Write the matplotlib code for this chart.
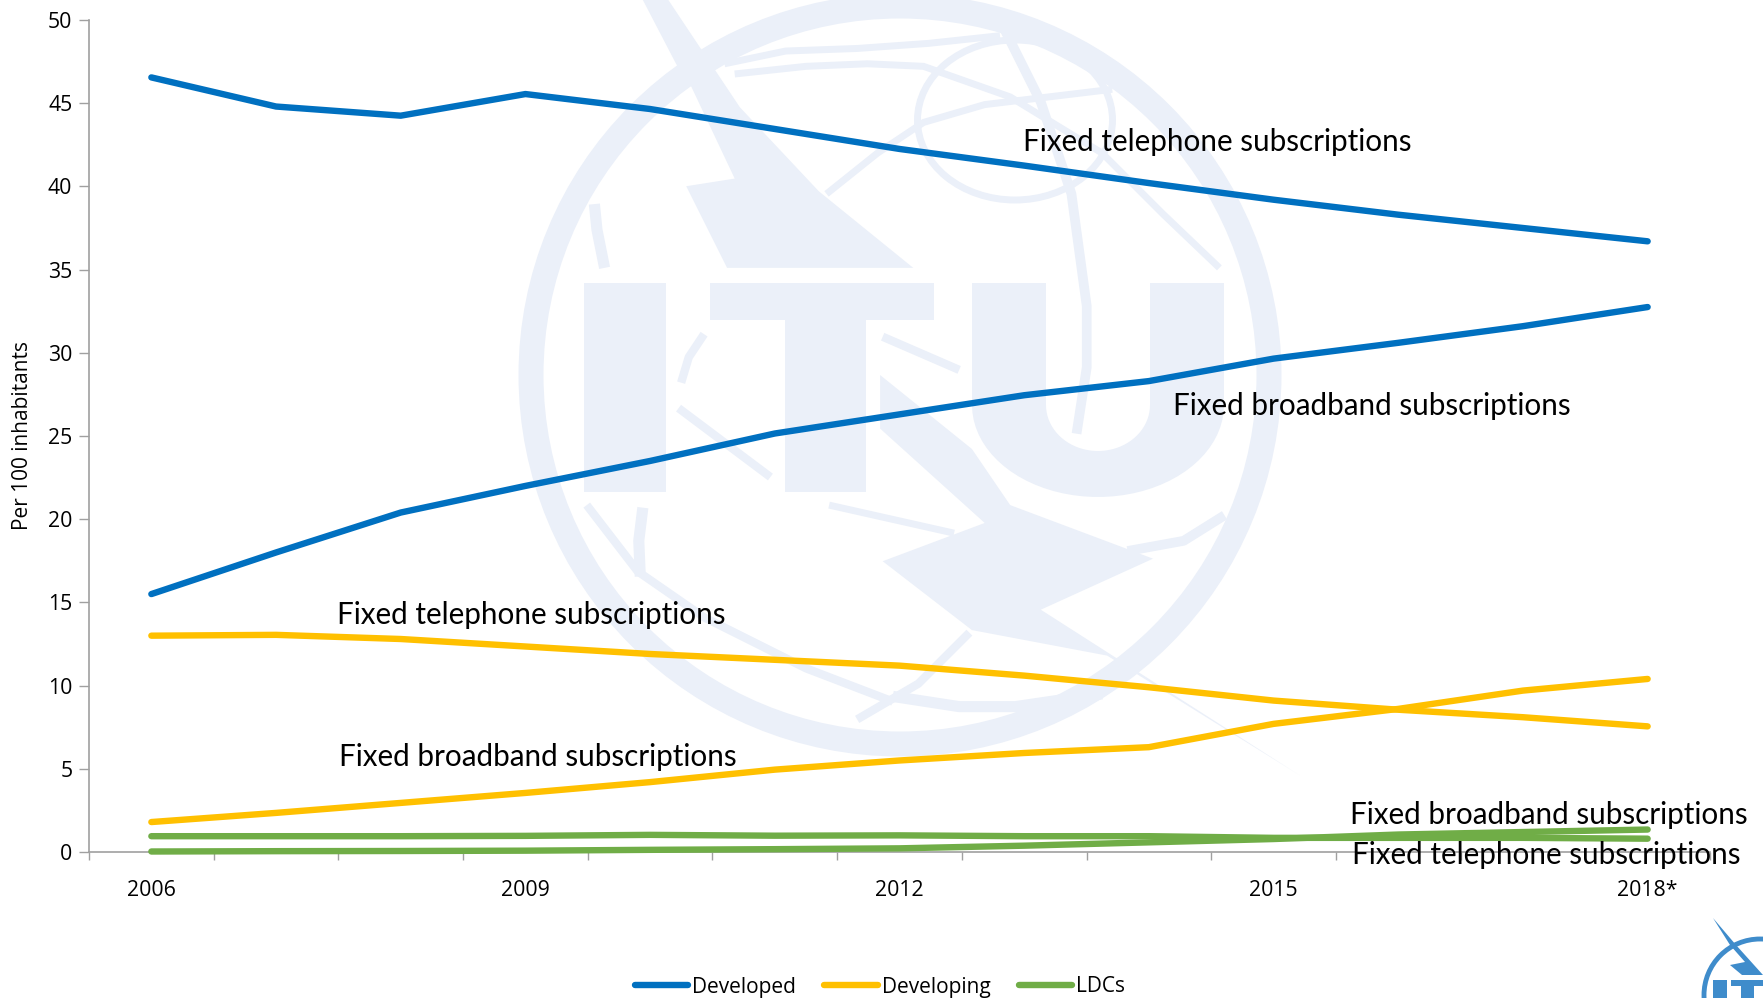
import matplotlib
matplotlib.use('Agg')
from matplotlib import pyplot as plt
from matplotlib.patches import Polygon, Ellipse, Rectangle
import numpy as np

years = [2006, 2007, 2008, 2009, 2010, 2011, 2012, 2013, 2014, 2015, 2016, 2017, 2018]
tick_years = [2006, 2009, 2012, 2015, 2018]
tick_labels = ['2006', '2009', '2012', '2015', '2018*']

developed_tel = [46.55, 44.8, 44.25, 45.55, 44.65, 43.45, 42.25, 41.25, 40.2, 39.2, 38.3, 37.5, 36.7]
developed_bb = [15.5, 18.0, 20.4, 22.0, 23.5, 25.15, 26.3, 27.45, 28.3, 29.65, 30.6, 31.6, 32.75]
developing_tel = [13.0, 13.05, 12.8, 12.35, 11.9, 11.55, 11.2, 10.6, 9.9, 9.1, 8.55, 8.1, 7.55]
developing_bb = [1.8, 2.35, 2.95, 3.55, 4.2, 4.95, 5.5, 5.95, 6.3, 7.7, 8.6, 9.7, 10.4]
ldc_tel = [0.95, 0.95, 0.95, 0.97, 1.03, 0.98, 1.0, 0.95, 0.95, 0.85, 0.85, 0.85, 0.8]
ldc_bb = [0.03, 0.05, 0.06, 0.08, 0.13, 0.17, 0.22, 0.38, 0.58, 0.78, 1.05, 1.2, 1.35]

BLUE = '#0070c0'
YELLOW = '#ffc000'
GREEN = '#70ad47'
GREY = '#a0a0a0'
MARK = '#ebf0f9'
LOGO = '#3f8ccb'

W, H = 1763, 998
fig = plt.figure(figsize=(W / 100, H / 100), dpi=100)

# background layer in pixel coords, y going down like the screenshot
bg = fig.add_axes([0, 0, 1, 1], zorder=0)
bg.set_xlim(0, W)
bg.set_ylim(H, 0)
bg.axis('off')


def z(pts):
    # zoom crop coords to pixels
    return [(500 + x / 1.96, y / 1.96) for x, y in pts]


def stroke(pts, lw=4):
    xy = np.array(z(pts))
    bg.plot(xy[:, 0], xy[:, 1], color=MARK, lw=lw, solid_capstyle='butt', solid_joinstyle='round')


bg.add_patch(Ellipse((900, 375), 738, 738, fill=False, ec=MARK, lw=18))
bg.add_patch(Ellipse((1015, 120), 195, 160, fill=False, ec=MARK, lw=5))

# globe lines
stroke([(440, 125), (560, 100), (700, 95), (840, 85), (980, 70)], 5)
stroke([(460, 145), (600, 130), (720, 125), (830, 130), (1000, 190), (1180, 300), (1300, 420), (1410, 525)], 5)
stroke([(640, 380), (740, 300), (830, 240), (950, 205), (1200, 175)], 5)
stroke([(990, 60), (1060, 200), (1120, 380), (1150, 600), (1150, 720), (1130, 850)], 7)
stroke([(185, 400), (190, 450), (205, 525)], 8)
stroke([(280, 995), (272, 1060), (275, 1130)], 8)
stroke([(350, 800), (430, 860), (530, 935)], 6)
stroke([(400, 655), (370, 700), (355, 750)], 6)
stroke([(750, 660), (900, 725)], 6)
stroke([(170, 990), (270, 1120), (400, 1210), (600, 1310), (770, 1375)], 6)
stroke([(770, 1365), (900, 1385), (1010, 1385), (1180, 1360)], 8)
stroke([(700, 1410), (820, 1340), (920, 1240)], 6)
stroke([(1230, 1080), (1340, 1060), (1420, 1010)], 7)
stroke([(645, 990), (890, 1045)], 5)

# lightning, upper and lower part
bg.add_patch(Polygon(z([(280, 0), (330, 0), (390, 90), (470, 210), (625, 375), (810, 525), (445, 525),
                        (365, 365), (460, 350), (375, 170), (345, 125)]), fc=MARK, ec='none'))
bg.add_patch(Polygon(z([(745, 735), (925, 880), (1000, 990), (1280, 1095), (1060, 1195), (1568, 1520),
                        (1190, 1285), (925, 1235), (750, 1100), (950, 1025), (745, 840)]), fc=MARK, ec='none'))
# I T U
bg.add_patch(Rectangle((584, 283), 82, 209, fc=MARK, ec='none'))
bg.add_patch(Rectangle((710, 283), 224, 37, fc=MARK, ec='none'))
bg.add_patch(Rectangle((785, 283), 81, 209, fc=MARK, ec='none'))
bg.add_patch(Rectangle((972, 283), 74, 122, fc=MARK, ec='none'))
bg.add_patch(Rectangle((1150, 283), 74, 122, fc=MARK, ec='none'))
t = np.linspace(0, np.pi, 40)
outer = np.c_[1098 + 126 * np.cos(t), 405 + 92 * np.sin(t)]
inner = np.c_[1098 - 52 * np.cos(t), 405 + 46 * np.sin(t)]
bg.add_patch(Polygon(np.r_[outer, inner], fc=MARK, ec='none'))

# small logo, cut off by the bottom right corner
bg.add_patch(Ellipse((1760, 995), 112, 112, fill=False, ec=LOGO, lw=3.5))
bg.add_patch(Polygon([(1713, 918), (1736, 945), (1763, 975), (1742, 975), (1730, 965), (1745, 962), (1730, 945)],
                     fc=LOGO, ec='none'))
bg.add_patch(Rectangle((1713, 980), 14, 18, fc=LOGO, ec='none'))
bg.add_patch(Rectangle((1731, 980), 32, 6, fc=LOGO, ec='none'))
bg.add_patch(Rectangle((1741, 980), 13, 18, fc=LOGO, ec='none'))

ax = fig.add_axes([89 / W, 1 - 852 / H, (1710 - 89) / W, (852 - 20) / H], zorder=1)
ax.patch.set_alpha(0)

for vals, col in [(developed_tel, BLUE), (developed_bb, BLUE),
                  (developing_tel, YELLOW), (developing_bb, YELLOW),
                  (ldc_tel, GREEN), (ldc_bb, GREEN)]:
    ax.plot(years, vals, color=col, lw=4.6, solid_capstyle='round', clip_on=False, zorder=3)

ax.set_xlim(2005.5, 2018.5)
ax.set_ylim(0, 50)
ax.spines['top'].set_visible(False)
ax.spines['right'].set_visible(False)
ax.spines['left'].set_color(GREY)
ax.spines['bottom'].set_color(GREY)
ax.spines['left'].set_linewidth(1.2)
ax.spines['bottom'].set_linewidth(1.2)

ax.set_yticks(range(0, 51, 5))
ax.set_xticks(tick_years)
ax.set_xticklabels(tick_labels)
ax.set_xticks([y + 0.5 for y in range(2005, 2019)], minor=True)
ax.tick_params(axis='x', which='major', length=0, pad=20, labelsize=15.3, labelcolor='black')
ax.tick_params(axis='x', which='minor', length=6, width=1, color=GREY)
ax.tick_params(axis='y', length=7, width=1, color=GREY, labelsize=15.3, pad=5)
for lab in ax.get_xticklabels() + ax.get_yticklabels():
    lab.set_fontfamily('Open Sans')

fig.text(23 / W, 1 - 436 / H, 'Per 100 inhabitants', rotation=90, ha='center', va='center',
         fontsize=15, family='Open Sans')

# series labels sit right on the lines
labels = [
    ('Fixed telephone subscriptions', 1023, 142),
    ('Fixed broadband subscriptions', 1173, 406),
    ('Fixed telephone subscriptions', 337, 615),
    ('Fixed broadband subscriptions', 339, 757),
    ('Fixed broadband subscriptions', 1350, 815),
    ('Fixed telephone subscriptions', 1352, 855),
]
for txt, px, py in labels:
    fig.text(px / W, 1 - py / H, txt, ha='left', va='center', fontsize=21.3, family='Lato', zorder=5)

handles = [plt.Line2D([], [], color=c, lw=4.6, solid_capstyle='round') for c in (BLUE, YELLOW, GREEN)]
fig.legend(handles, ['Developed', 'Developing', 'LDCs'], ncol=3, loc='center',
           bbox_to_anchor=(880 / W, 1 - 987 / H), frameon=False, handlelength=2.55,
           handletextpad=0.2, columnspacing=1.35, prop={'family': 'Open Sans', 'size': 15})

fig.savefig('out.png', dpi=100)
